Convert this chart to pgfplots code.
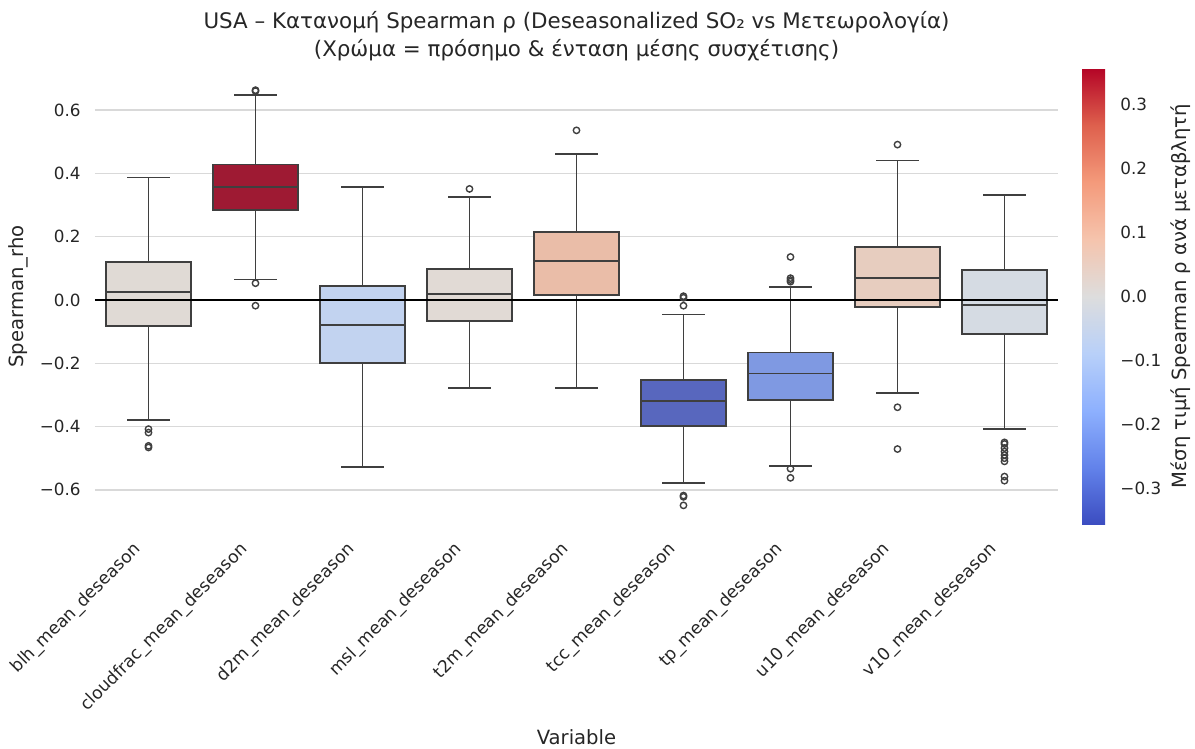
\documentclass[border=0pt]{standalone}
\usepackage{pgfplots}
\pgfplotsset{compat=1.18}
\usepgfplotslibrary{statistics}
\usepackage{fontspec}
\setmainfont{DejaVu Sans}
\definecolor{txt}{HTML}{262626}
\definecolor{edge}{HTML}{3F3F3F}
\definecolor{gridc}{HTML}{D9D9D9}
\definecolor{cblh}{HTML}{E0DAD5}
\definecolor{ccloud}{HTML}{9E1A33}
\definecolor{cdtm}{HTML}{C2D3F0}
\definecolor{cmsl}{HTML}{E1DAD5}
\definecolor{ctm}{HTML}{EABDA8}
\definecolor{ctcc}{HTML}{5867BE}
\definecolor{ctp}{HTML}{7F99E2}
\definecolor{cu}{HTML}{E7CDBF}
\definecolor{cv}{HTML}{D5DBE3}
\pgfplotsset{
  bx/.style={draw=edge, line width=0.9pt, solid, mark=o, mark size=1.6pt,
    mark options={draw=edge, line width=0.7pt, solid}},
}
\begin{document}
\begin{tikzpicture}
\useasboundingbox (-47.5pt,-112pt) rectangle (550pt,262.5pt);
\begin{axis}[
  scale only axis, width=481.5pt, height=228.5pt,
  xmin=-0.5, xmax=8.5, ymin=-0.711, ymax=0.733,
  boxplot/draw direction=y,
  boxplot/every whisker/.style={draw=edge, line width=0.9pt, solid},
  boxplot/every median/.style={draw=edge, line width=0.9pt, solid},
  boxplot/every box/.style={draw=edge, line width=0.9pt, solid},
  axis line style={draw=none},
  major tick length=0pt,
  xtick={0,1,2,3,4,5,6,7,8},
  xticklabels={blh\_mean\_deseason,cloudfrac\_mean\_deseason,d2m\_mean\_deseason,msl\_mean\_deseason,t2m\_mean\_deseason,tcc\_mean\_deseason,tp\_mean\_deseason,u10\_mean\_deseason,v10\_mean\_deseason},
  ytick={-0.6,-0.4,-0.2,0,0.2,0.4,0.6},
  yticklabels={−0.6,−0.4,−0.2,0.0,0.2,0.4,0.6},
  ymajorgrids, grid style={gridc, line width=0.7pt},
  tick label style={font=\fontsize{8.4}{10}\selectfont, text=txt},
  yticklabel style={anchor=east, inner sep=0pt, xshift=-7pt},
  xticklabel style={xshift=-3.5pt, yshift=-12.5pt, rotate=45, anchor=base east, inner sep=0pt, font=\fontsize{8.6}{10}\selectfont},
  ylabel={Spearman\_rho},
  ylabel style={at={(axis description cs:-0.080,0.5)}, anchor=center, font=\fontsize{9.8}{11}\selectfont, text=txt},
  xlabel={Variable},
  xlabel style={at={(axis description cs:0.5,-0.4639)}, anchor=center, font=\fontsize{9.8}{11}\selectfont, text=txt},
  title={USA – Κατανομή Spearman ρ (Deseasonalized SO₂ vs Μετεωρολογία)\\(Χρώμα = πρόσημο \& ένταση μέσης συσχέτισης)},
  title style={at={(axis description cs:0.5,1.044)}, anchor=center, align=center, font=\fontsize{10.7}{14}\selectfont, text=txt},
  colormap={cw}{rgb255=(59,76,192) rgb255=(98,130,234) rgb255=(141,176,254) rgb255=(184,208,249) rgb255=(221,221,221) rgb255=(245,196,173) rgb255=(244,154,123) rgb255=(222,96,77) rgb255=(180,4,38)},
  point meta min=-0.357, point meta max=0.357,
  colorbar,
  colorbar style={
    at={(parent axis.north east)}, anchor=north west, xshift=3.5pt,
    width=11.5pt,
    axis line style={draw=none},
    major tick length=0pt,
    ytick={-0.3,-0.2,-0.1,0,0.1,0.2,0.3},
    yticklabels={−0.3,−0.2,−0.1,0.0,0.1,0.2,0.3},
    yticklabel style={anchor=west, inner sep=0pt, xshift=7.5pt, font=\fontsize{8.4}{10}\selectfont, text=txt},
    ylabel={Μέση τιμή Spearman ρ ανά μεταβλητή},
    ylabel style={at={(axis description cs:4.3,0.5)}, anchor=center, font=\fontsize{9.8}{11}\selectfont, text=txt},
  },
]
% blh
\addplot[bx, fill=cblh, boxplot prepared={draw position=0, lower whisker=-0.380, lower quartile=-0.083, median=0.024, upper quartile=0.119, upper whisker=0.387, box extend=0.8, whisker extend=0.4}]
  coordinates {(0,-0.408) (0,-0.419) (0,-0.461) (0,-0.466)};
% cloudfrac
\addplot[bx, fill=ccloud, boxplot prepared={draw position=1, lower whisker=0.065, lower quartile=0.284, median=0.358, upper quartile=0.428, upper whisker=0.648, box extend=0.8, whisker extend=0.4}]
  coordinates {(0,0.663) (0,0.660) (0,0.053) (0,-0.018)};
% d2m
\addplot[bx, fill=cdtm, boxplot prepared={draw position=2, lower whisker=-0.528, lower quartile=-0.199, median=-0.079, upper quartile=0.043, upper whisker=0.358, box extend=0.8, whisker extend=0.4}]
  coordinates {};
% msl
\addplot[bx, fill=cmsl, boxplot prepared={draw position=3, lower whisker=-0.277, lower quartile=-0.066, median=0.019, upper quartile=0.098, upper whisker=0.326, box extend=0.8, whisker extend=0.4}]
  coordinates {(0,0.351)};
% t2m
\addplot[bx, fill=ctm, boxplot prepared={draw position=4, lower whisker=-0.277, lower quartile=0.016, median=0.123, upper quartile=0.214, upper whisker=0.461, box extend=0.8, whisker extend=0.4}]
  coordinates {(0,0.536)};
% tcc
\addplot[bx, fill=ctcc, boxplot prepared={draw position=5, lower whisker=-0.579, lower quartile=-0.397, median=-0.318, upper quartile=-0.253, upper whisker=-0.046, box extend=0.8, whisker extend=0.4}]
  coordinates {(0,0.012) (0,0.007) (0,-0.018) (0,-0.618) (0,-0.622) (0,-0.649)};
% tp
\addplot[bx, fill=ctp, boxplot prepared={draw position=6, lower whisker=-0.525, lower quartile=-0.315, median=-0.232, upper quartile=-0.166, upper whisker=0.040, box extend=0.8, whisker extend=0.4}]
  coordinates {(0,0.136) (0,0.069) (0,0.063) (0,0.058) (0,-0.533) (0,-0.562)};
% u10
\addplot[bx, fill=cu, boxplot prepared={draw position=7, lower whisker=-0.293, lower quartile=-0.021, median=0.069, upper quartile=0.167, upper whisker=0.441, box extend=0.8, whisker extend=0.4}]
  coordinates {(0,0.491) (0,-0.339) (0,-0.471)};
% v10
\addplot[bx, fill=cv, boxplot prepared={draw position=8, lower whisker=-0.408, lower quartile=-0.107, median=-0.017, upper quartile=0.094, upper whisker=0.333, box extend=0.8, whisker extend=0.4}]
  coordinates {(0,-0.450) (0,-0.455) (0,-0.468) (0,-0.479) (0,-0.490) (0,-0.500) (0,-0.510) (0,-0.558) (0,-0.571)};
% zero line
\addplot[black, line width=0.6pt, no marks] coordinates {(-0.5,0) (8.5,0)};
\end{axis}
\end{tikzpicture}
\end{document}
